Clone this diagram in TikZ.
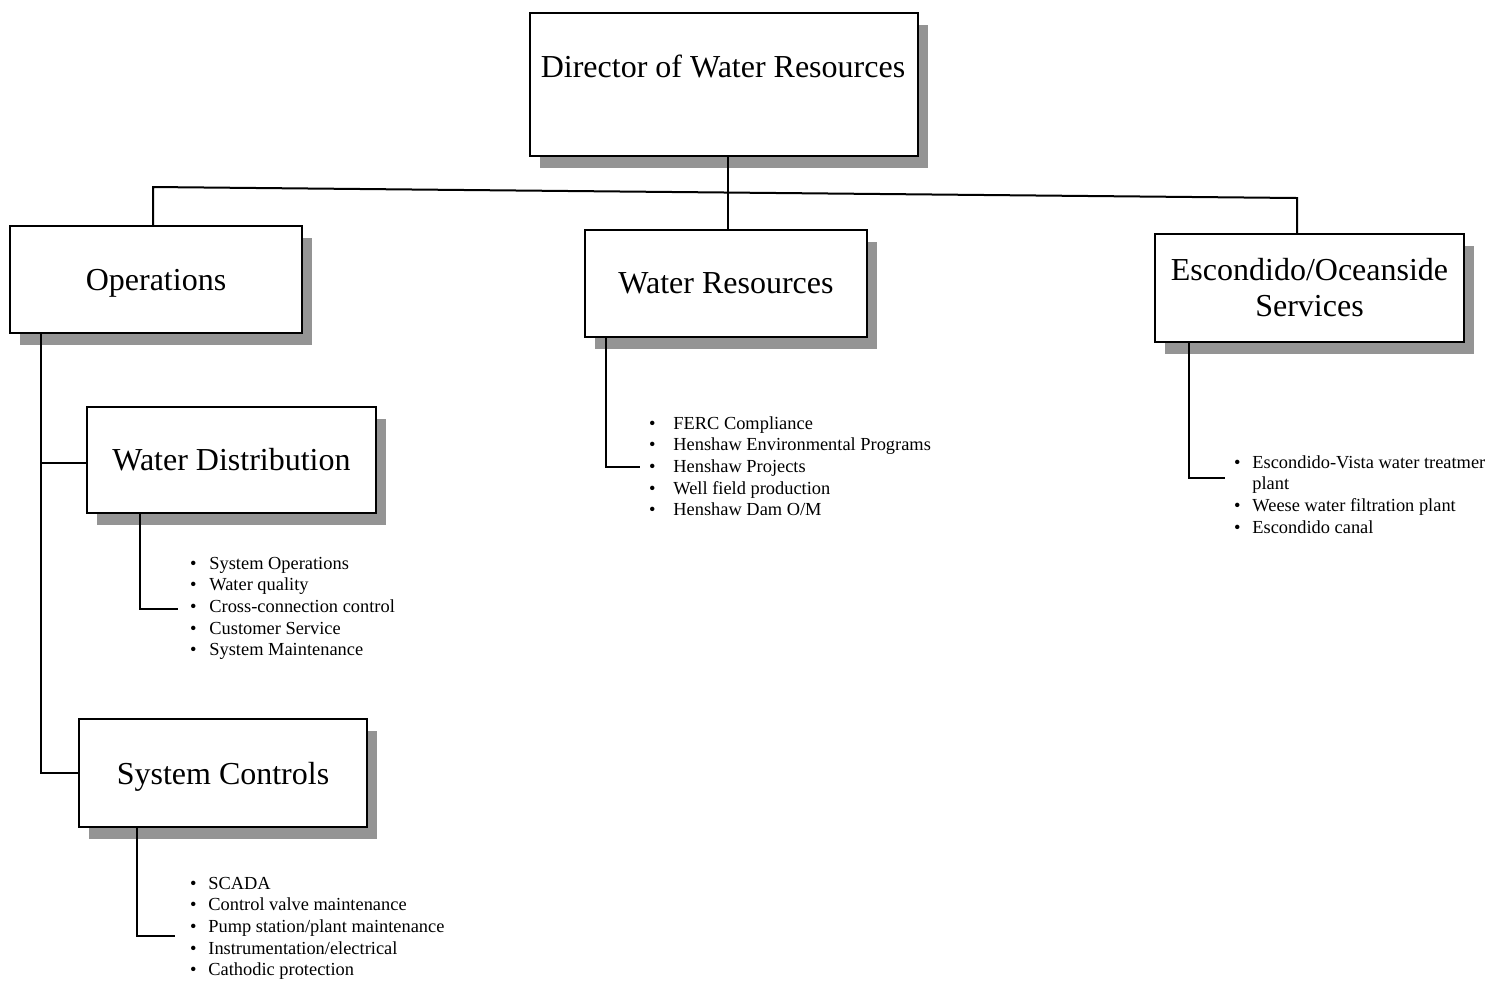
\documentclass[tikz,border=0pt]{standalone}
\usepackage{fontspec}
\setmainfont{Liberation Serif}
\usetikzlibrary{shadows,calc}
\newcommand{\bul}[1]{\llap{\textbullet\hspace{#1}}}
\begin{document}
\begin{tikzpicture}[x=0.5pt,y=-0.5pt,
  orgbox/.style={draw=black, line width=1pt, fill=white, inner sep=0pt, anchor=north west,
    font=\fontsize{16}{18}\selectfont, align=center,
    drop shadow={shadow xshift=5pt, shadow yshift=-5.75pt, fill=black!42, opacity=1}},
  conn/.style={line width=1pt, line join=miter},
  items/.style={anchor=base west, inner sep=0pt, font=\fontsize{9.2}{10.85}\selectfont}]
\useasboundingbox (0,0) rectangle (1502,982);
\fill[white] (0,0) rectangle (1502,982);

% boxes
\node[orgbox, minimum width=194pt, minimum height=71.5pt] (dir) at (529,12) {};
\node[font=\fontsize{16}{18}\selectfont, inner sep=0pt] (dirt) at (723,66) {Director of Water Resources};
\node[orgbox, minimum width=146pt, minimum height=53.5pt, text depth=0pt] (ops) at (9,225) {Operations};
\node[orgbox, minimum width=141pt, minimum height=53.5pt] (wr) at (584,229) {Water Resources};
\node[orgbox, minimum width=154.5pt, minimum height=54pt] (esc) at (1154,233) {Escondido/Oceanside\\Services};
\node[orgbox, minimum width=144.5pt, minimum height=53pt] (wd) at (86,406) {Water Distribution};
\node[orgbox, minimum width=144pt, minimum height=54pt, text depth=0pt] (sc) at (78,718) {System Controls};

% lists
\node[items] (wdl) at (209,569) {\begin{tabular}[t]{@{}l@{}}
\bul{6.4pt}System Operations\\
\bul{6.4pt}Water quality\\
\bul{6.4pt}Cross-connection control\\
\bul{6.4pt}Customer Service\\
\bul{6.4pt}System Maintenance
\end{tabular}};
\node[items] (scl) at (208,889) {\begin{tabular}[t]{@{}l@{}}
\bul{5.9pt}SCADA\\
\bul{5.9pt}Control valve maintenance\\
\bul{5.9pt}Pump station/plant maintenance\\
\bul{5.9pt}Instrumentation/electrical\\
\bul{5.9pt}Cathodic protection
\end{tabular}};
\node[items] (wrl) at (673,429) {\begin{tabular}[t]{@{}l@{}}
\bul{8.9pt}FERC Compliance\\
\bul{8.9pt}Henshaw Environmental Programs\\
\bul{8.9pt}Henshaw Projects\\
\bul{8.9pt}Well field production\\
\bul{8.9pt}Henshaw Dam O/M
\end{tabular}};
\node[items] (escl) at (1252,468) {\begin{tabular}[t]{@{}l@{}}
\bul{5.9pt}Escondido-Vista water treatmer\\
plant\\
\bul{5.9pt}Weese water filtration plant\\
\bul{5.9pt}Escondido canal
\end{tabular}};

% connectors
\coordinate (busL) at (153,187);
\coordinate (busM) at (728,192.5);
\coordinate (busR) at (1297,198);
\draw[conn] (busL |- ops.north) -- (busL) -- (busR) -- (busR |- esc.north);
\draw[conn] (busM |- dir.south) -- (busM |- wr.north);

\coordinate (o1) at (41,463);
\coordinate (o2) at (41,773);
\draw[conn] (o1 |- ops.south) -- (o2) -- (o2 -| sc.west);
\draw[conn] (o1) -- (o1 -| wd.west);

\coordinate (wdc) at (140,609);
\coordinate (wde) at (178,609);
\draw[conn] (wdc |- wd.south) -- (wdc) -- (wde);

\coordinate (scc) at (137,936);
\coordinate (sce) at (175,936);
\draw[conn] (scc |- sc.south) -- (scc) -- (sce);

\coordinate (wrc) at (606,467);
\coordinate (wre) at (640,467);
\draw[conn] (wrc |- wr.south) -- (wrc) -- (wre);

\coordinate (escc) at (1189,478);
\coordinate (esce) at (1225,478);
\draw[conn] (escc |- esc.south) -- (escc) -- (esce);
\end{tikzpicture}
\end{document}
